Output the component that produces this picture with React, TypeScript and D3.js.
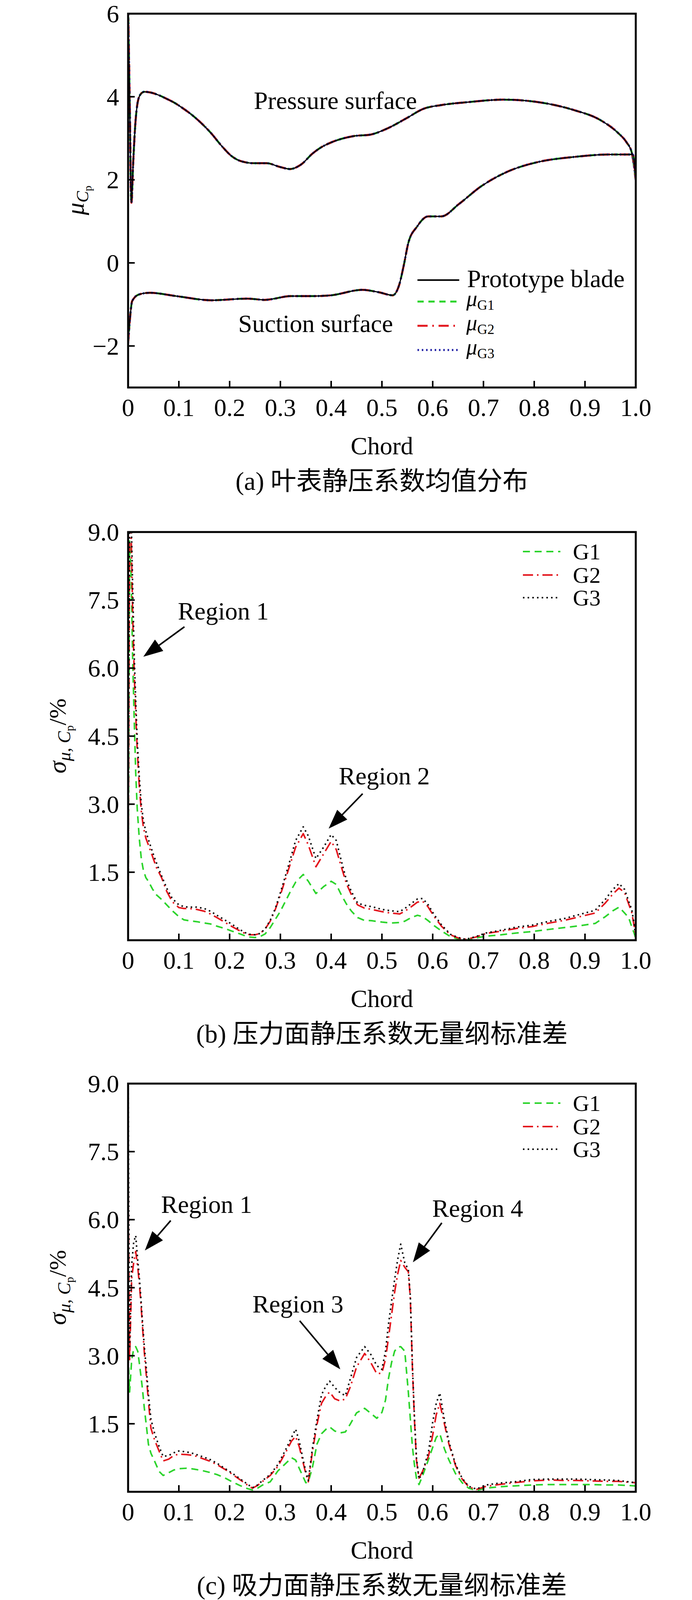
import React from 'react';
import * as d3 from 'd3';

const W = 1772;
const H = 4112;
const FONT = "'Liberation Serif', 'Times New Roman', 'Noto Sans CJK SC', serif";

// (a) mean static pressure coefficient
const chordPS = [0, 0.003, 0.0065, 0.01, 0.014, 0.018, 0.024, 0.032, 0.045, 0.06, 0.076, 0.092, 0.107, 0.125, 0.142, 0.163, 0.184, 0.204, 0.222, 0.248, 0.273, 0.299, 0.319, 0.342, 0.363, 0.38, 0.4, 0.443, 0.478, 0.513, 0.548, 0.582, 0.617, 0.669, 0.739, 0.808, 0.878, 0.93, 0.965, 0.982, 0.992, 1.0];
const muPS = [6.2, 4.0, 1.45, 2.4, 3.3, 3.8, 4.05, 4.12, 4.1, 4.04, 3.95, 3.85, 3.73, 3.57, 3.39, 3.13, 2.82, 2.57, 2.45, 2.4, 2.4, 2.31, 2.26, 2.38, 2.63, 2.78, 2.9, 3.05, 3.09, 3.25, 3.48, 3.71, 3.8, 3.87, 3.93, 3.87, 3.68, 3.44, 3.13, 2.9, 2.66, 2.0];
const chordSS = [0, 0.004, 0.008, 0.0215, 0.043, 0.095, 0.165, 0.235, 0.269, 0.321, 0.365, 0.4, 0.461, 0.495, 0.521, 0.534, 0.543, 0.552, 0.569, 0.591, 0.617, 0.652, 0.695, 0.748, 0.808, 0.878, 0.947, 0.994, 1.0];
const muSS = [-1.93, -1.3, -0.92, -0.76, -0.72, -0.8, -0.9, -0.86, -0.89, -0.8, -0.8, -0.78, -0.65, -0.71, -0.78, -0.53, -0.06, 0.48, 0.87, 1.12, 1.12, 1.42, 1.84, 2.2, 2.43, 2.55, 2.61, 2.61, 2.0];

// (b) pressure side standard deviation (%)
const chordB = [0, 0.003, 0.006, 0.009, 0.012, 0.015, 0.018, 0.022, 0.026, 0.03, 0.035, 0.04, 0.048, 0.056, 0.066, 0.076, 0.087, 0.1, 0.11, 0.12, 0.135, 0.15, 0.162, 0.175, 0.19, 0.205, 0.218, 0.23, 0.24, 0.25, 0.26, 0.27, 0.28, 0.29, 0.3, 0.31, 0.32, 0.33, 0.345, 0.355, 0.37, 0.385, 0.4, 0.41, 0.42, 0.43, 0.44, 0.452, 0.465, 0.48, 0.5, 0.517, 0.535, 0.545, 0.558, 0.57, 0.58, 0.59, 0.603, 0.618, 0.635, 0.65, 0.665, 0.685, 0.705, 0.735, 0.765, 0.795, 0.83, 0.86, 0.89, 0.92, 0.94, 0.955, 0.967, 0.978, 0.986, 0.992, 0.997, 1.0];
const g1B = [0.4, 8.8, 8.0, 6.2, 4.9, 3.7, 2.9, 2.25, 1.8, 1.55, 1.38, 1.3, 1.13, 1.0, 0.9, 0.78, 0.65, 0.52, 0.45, 0.43, 0.41, 0.38, 0.36, 0.31, 0.26, 0.2, 0.15, 0.1, 0.07, 0.06, 0.08, 0.14, 0.28, 0.46, 0.64, 0.86, 1.08, 1.28, 1.45, 1.3, 1.03, 1.18, 1.3, 1.23, 1.0, 0.8, 0.64, 0.5, 0.44, 0.43, 0.4, 0.38, 0.39, 0.42, 0.5, 0.55, 0.52, 0.44, 0.32, 0.2, 0.08, 0.03, 0.0, 0.05, 0.09, 0.12, 0.16, 0.19, 0.24, 0.28, 0.32, 0.37, 0.52, 0.65, 0.73, 0.6, 0.5, 0.3, 0.15, 0.03];
const g2B = [0.8, 9.3, 9.0, 7.2, 5.9, 5.0, 4.2, 3.4, 2.85, 2.5, 2.25, 2.1, 1.85, 1.6, 1.38, 1.08, 0.85, 0.72, 0.7, 0.7, 0.68, 0.64, 0.58, 0.5, 0.4, 0.3, 0.22, 0.15, 0.12, 0.12, 0.15, 0.25, 0.42, 0.68, 1.0, 1.35, 1.7, 2.05, 2.35, 2.1, 1.62, 1.9, 2.18, 2.0, 1.62, 1.25, 1.0, 0.78, 0.71, 0.68, 0.63, 0.6, 0.58, 0.64, 0.74, 0.84, 0.86, 0.75, 0.52, 0.3, 0.12, 0.05, 0.02, 0.07, 0.15, 0.2, 0.26, 0.3, 0.38, 0.44, 0.52, 0.6, 0.82, 1.02, 1.15, 1.05, 0.8, 0.62, 0.3, 0.05];
const g3B = [1.0, 9.6, 9.4, 7.8, 6.3, 5.3, 4.4, 3.6, 3.0, 2.65, 2.4, 2.22, 1.95, 1.7, 1.42, 1.15, 0.92, 0.78, 0.74, 0.73, 0.73, 0.7, 0.64, 0.55, 0.45, 0.35, 0.25, 0.17, 0.13, 0.12, 0.15, 0.25, 0.44, 0.7, 1.05, 1.42, 1.8, 2.2, 2.5, 2.3, 1.8, 2.05, 2.33, 2.2, 1.75, 1.33, 1.07, 0.82, 0.77, 0.74, 0.68, 0.65, 0.63, 0.7, 0.81, 0.91, 0.92, 0.8, 0.56, 0.33, 0.13, 0.06, 0.02, 0.08, 0.16, 0.22, 0.29, 0.33, 0.42, 0.48, 0.57, 0.66, 0.9, 1.12, 1.25, 1.12, 0.86, 0.68, 0.35, 0.05];

// (c) suction side standard deviation (%)
const chordC = [0, 0.003, 0.007, 0.011, 0.015, 0.019, 0.022, 0.025, 0.028, 0.032, 0.036, 0.04, 0.045, 0.052, 0.061, 0.069, 0.08, 0.09, 0.1, 0.115, 0.13, 0.145, 0.16, 0.175, 0.19, 0.205, 0.22, 0.235, 0.245, 0.255, 0.265, 0.28, 0.295, 0.31, 0.322, 0.33, 0.337, 0.344, 0.35, 0.355, 0.363, 0.372, 0.381, 0.39, 0.397, 0.407, 0.418, 0.428, 0.438, 0.45, 0.466, 0.478, 0.49, 0.5, 0.507, 0.513, 0.519, 0.525, 0.531, 0.537, 0.545, 0.552, 0.556, 0.56, 0.564, 0.568, 0.573, 0.58, 0.592, 0.6, 0.607, 0.614, 0.623, 0.632, 0.645, 0.658, 0.671, 0.686, 0.705, 0.73, 0.76, 0.795, 0.83, 0.86, 0.885, 0.91, 0.94, 0.965, 1.0];
const g1C = [3.0, 2.2, 2.9, 3.15, 3.2, 3.1, 2.85, 2.58, 2.3, 1.84, 1.46, 1.05, 0.85, 0.68, 0.45, 0.36, 0.42, 0.48, 0.51, 0.52, 0.5, 0.47, 0.43, 0.38, 0.31, 0.22, 0.14, 0.07, 0.04, 0.08, 0.15, 0.22, 0.46, 0.62, 0.75, 0.7, 0.52, 0.35, 0.2, 0.22, 0.53, 1.05, 1.28, 1.38, 1.43, 1.34, 1.3, 1.32, 1.5, 1.74, 1.84, 1.73, 1.62, 1.75, 2.02, 2.5, 2.85, 3.1, 3.19, 3.2, 3.1, 2.2, 1.6, 1.0, 0.6, 0.3, 0.16, 0.35, 0.72, 0.98, 1.2, 1.28, 0.95, 0.7, 0.4, 0.2, 0.08, 0.03, 0.08, 0.11, 0.13, 0.15, 0.16, 0.16, 0.16, 0.16, 0.15, 0.15, 0.13];
const g2C = [7.0, 2.9, 4.7, 5.05, 5.3, 4.95, 4.6, 4.2, 3.7, 3.07, 2.55, 2.0, 1.4, 1.15, 0.9, 0.68, 0.72, 0.8, 0.83, 0.82, 0.8, 0.74, 0.68, 0.6, 0.5, 0.39, 0.27, 0.15, 0.08, 0.14, 0.23, 0.36, 0.56, 0.86, 1.12, 1.22, 1.0, 0.68, 0.4, 0.22, 0.88, 1.48, 1.95, 2.12, 2.2, 2.05, 2.0, 2.05, 2.32, 2.75, 3.05, 2.85, 2.6, 2.62, 2.92, 3.4, 3.9, 4.4, 4.8, 5.1, 4.95, 4.85, 4.25, 2.75, 1.6, 0.7, 0.3, 0.45, 0.8, 1.25, 1.7, 1.95, 1.5, 1.05, 0.58, 0.28, 0.11, 0.05, 0.12, 0.16, 0.2, 0.24, 0.26, 0.25, 0.25, 0.24, 0.23, 0.23, 0.2];
const g3C = [9.0, 3.2, 5.0, 5.5, 5.65, 5.1, 4.75, 4.3, 3.8, 3.2, 2.7, 2.15, 1.6, 1.3, 1.0, 0.78, 0.8, 0.86, 0.9, 0.88, 0.84, 0.78, 0.72, 0.63, 0.52, 0.41, 0.29, 0.17, 0.09, 0.15, 0.25, 0.38, 0.6, 0.92, 1.2, 1.38, 1.12, 0.75, 0.45, 0.25, 0.95, 1.58, 2.14, 2.34, 2.44, 2.3, 2.18, 2.12, 2.5, 2.96, 3.2, 3.03, 2.78, 2.7, 3.1, 3.7, 4.2, 4.68, 5.12, 5.46, 5.05, 4.9, 4.3, 2.8, 1.65, 0.75, 0.28, 0.42, 0.9, 1.54, 1.95, 2.18, 1.59, 1.1, 0.6, 0.3, 0.12, 0.06, 0.15, 0.19, 0.22, 0.27, 0.28, 0.28, 0.28, 0.27, 0.26, 0.25, 0.2];

const xTicks = [0, 0.1, 0.2, 0.3, 0.4, 0.5, 0.6, 0.7, 0.8, 0.9, 1.0];
const yTicksA = [-2, 0, 2, 4, 6];
const yTicksSigma = [1.5, 3.0, 4.5, 6.0, 7.5, 9.0];
const captions = ['(a) 叶表静压系数均值分布', '(b) 压力面静压系数无量纲标准差', '(c) 吸力面静压系数无量纲标准差'];
const groupNames = ['G1', 'G2', 'G3'];

// annotation anchors in data units: [label, textX, textY, fromX, fromY, tipX, tipY]
const notesB: [string, number, number, number, number, number, number][] = [
  ['Region 1', 0.098, 7.07, 0.111, 6.91, 0.03, 6.25],
  ['Region 2', 0.415, 3.44, 0.462, 3.23, 0.395, 2.46],
];
const notesC: [string, number, number, number, number, number, number][] = [
  ['Region 1', 0.065, 6.15, 0.084, 5.98, 0.033, 5.32],
  ['Region 4', 0.599, 6.06, 0.618, 5.93, 0.561, 5.06],
  ['Region 3', 0.245, 3.95, 0.338, 3.77, 0.418, 2.7],
];

const GREEN = '#2cd42c';
const RED = '#e3161e';
const BLUE = '#2323a6';

const LEFT = 328;
const RIGHT = 1628;
const x = d3.scaleLinear().domain([0, 1]).range([LEFT, RIGHT]);

const fmtX = (v: number) => (v === 0 ? '0' : v.toFixed(1));

type Series = { xs: number[]; ys: number[]; stroke: string; dash?: string; width: number };

function Arrow({ x1, y1, x2, y2 }: { x1: number; y1: number; x2: number; y2: number }) {
  const a = Math.atan2(y2 - y1, x2 - x1);
  const len = 50;
  const hw = 18;
  const bx = x2 - len * Math.cos(a);
  const by = y2 - len * Math.sin(a);
  const px = -Math.sin(a) * hw;
  const py = Math.cos(a) * hw;
  return (
    <g>
      <line x1={x1} y1={y1} x2={bx} y2={by} stroke="#000" strokeWidth={4} />
      <polygon points={`${x2},${y2} ${bx + px},${by + py} ${bx - px},${by - py}`} fill="#000" />
    </g>
  );
}

function Panel({ id, top, bottom, domain, yTicks, fmtY, series, curve, caption, children }: {
  id: string; top: number; bottom: number; domain: [number, number]; yTicks: number[];
  fmtY: (v: number) => string; series: Series[]; curve: d3.CurveFactory; caption: string;
  children?: (y: d3.ScaleLinear<number, number>) => React.ReactNode;
}) {
  const y = d3.scaleLinear().domain(domain).range([bottom, top]);
  const line = d3.line<[number, number]>().x(d => x(d[0])).y(d => y(d[1])).curve(curve);
  const mid = (LEFT + RIGHT) / 2;
  return (
    <g>
      <defs>
        <clipPath id={id}>
          <rect x={LEFT} y={top} width={RIGHT - LEFT} height={bottom - top} />
        </clipPath>
      </defs>
      <g clipPath={`url(#${id})`}>
        {series.map((s, i) => (
          <path key={i} d={line(s.xs.map((v, k) => [v, s.ys[k]]) as [number, number][]) || ''}
            fill="none" stroke={s.stroke} strokeWidth={s.width} strokeDasharray={s.dash} strokeLinejoin="round" />
        ))}
      </g>
      <rect x={LEFT} y={top} width={RIGHT - LEFT} height={bottom - top} fill="none" stroke="#000" strokeWidth={5} />
      {xTicks.map(t => (
        <g key={t}>
          <line x1={x(t)} x2={x(t)} y1={bottom} y2={bottom - 17} stroke="#000" strokeWidth={4} />
          <text x={x(t)} y={bottom + 73} textAnchor="middle" fontSize={64}>{fmtX(t)}</text>
        </g>
      ))}
      {yTicks.map(t => (
        <g key={t}>
          <line x1={LEFT} x2={LEFT + 17} y1={y(t)} y2={y(t)} stroke="#000" strokeWidth={4} />
          <text x={LEFT - 23} y={y(t) + 22} textAnchor="end" fontSize={64}>{fmtY(t)}</text>
        </g>
      ))}
      <text x={mid} y={bottom + 171} textAnchor="middle" fontSize={64}>Chord</text>
      <text x={mid} y={bottom + 262} textAnchor="middle" fontSize={66}>{caption}</text>
      {children && children(y)}
    </g>
  );
}

function SigmaLegend({ top }: { top: number }) {
  const styles = [
    { stroke: GREEN, dash: '18 12' },
    { stroke: RED, dash: '26 10 4 10' },
    { stroke: '#111', dash: '4 8' },
  ];
  const rows = [50, 110, 168];
  return (
    <g>
      {groupNames.map((n, i) => (
        <g key={n}>
          <line x1={1339} x2={1435} y1={top + rows[i]} y2={top + rows[i]} stroke={styles[i].stroke}
            strokeWidth={4} strokeDasharray={styles[i].dash} />
          <text x={1467} y={top + rows[i] + 20} fontSize={58}>{n}</text>
        </g>
      ))}
    </g>
  );
}

function SigmaLabel({ cy }: { cy: number }) {
  return (
    <text transform={`translate(168,${cy}) rotate(-90)`} textAnchor="middle" fontSize={64}>
      <tspan fontStyle="italic">σ</tspan>
      <tspan fontStyle="italic" fontSize={46} dy={12}>μ</tspan>
      <tspan fontSize={46}>, </tspan>
      <tspan fontStyle="italic" fontSize={46}>C</tspan>
      <tspan fontSize={30} dy={8}>p</tspan>
      <tspan fontSize={62} dy={-20}>/%</tspan>
    </text>
  );
}

function Notes({ notes, y }: { notes: typeof notesB; y: d3.ScaleLinear<number, number> }) {
  return (
    <g>
      {notes.map(([label, tx, ty, fx, fy, ax, ay]) => (
        <g key={label}>
          <text x={x(tx)} y={y(ty)} fontSize={64}>{label}</text>
          <Arrow x1={x(fx)} y1={y(fy)} x2={x(ax)} y2={y(ay)} />
        </g>
      ))}
    </g>
  );
}

export default function App() {
  const colourLines = (xs: number[], ys: number[]): Series[] => [
    { xs, ys, stroke: GREEN, dash: '18 12', width: 5.5 },
    { xs, ys, stroke: RED, dash: '26 10 4 10', width: 5.5 },
    { xs, ys, stroke: BLUE, dash: '4 7', width: 5.5 },
    { xs, ys, stroke: '#000', width: 3 },
  ];
  const seriesA = [...colourLines(chordPS, muPS), ...colourLines(chordSS, muSS)];
  const sig = (xs: number[], a: number[], b: number[], c: number[]): Series[] => [
    { xs, ys: a, stroke: GREEN, dash: '18 12', width: 4 },
    { xs, ys: b, stroke: RED, dash: '26 10 4 10', width: 4 },
    { xs, ys: c, stroke: '#111', dash: '4 8', width: 4 },
  ];
  const legendA = [
    { label: 'G1', stroke: GREEN, dash: '16 12' },
    { label: 'G2', stroke: RED, dash: '26 12 4 12' },
    { label: 'G3', stroke: BLUE, dash: '4 7' },
  ];
  return (
    <svg width={W} height={H} viewBox={`0 0 ${W} ${H}`} fontFamily={FONT}
      style={{ position: 'absolute', left: 0, top: 0, background: '#fff' }}>
      <rect width={W} height={H} fill="#fff" />
      <Panel id="clipA" top={35} bottom={992} domain={[-3, 6]} yTicks={yTicksA}
        fmtY={v => (v < 0 ? `\u2212${Math.abs(v)}` : `${v}`)} series={seriesA}
        curve={d3.curveMonotoneX} caption={captions[0]}>
        {y => (
          <g>
            <text x={x(0.2477)} y={y(3.71)} fontSize={64}>Pressure surface</text>
            <text x={x(0.217)} y={y(-1.66)} fontSize={64}>Suction surface</text>
          </g>
        )}
      </Panel>
      <text transform="translate(214,513) rotate(-90)" textAnchor="middle" fontSize={64}>
        <tspan fontStyle="italic">μ</tspan>
        <tspan fontStyle="italic" fontSize={44} dy={12}>C</tspan>
        <tspan fontSize={28} dy={8}>p</tspan>
      </text>
      <g>
        <line x1={1069} x2={1176} y1={717} y2={717} stroke="#000" strokeWidth={4} />
        <text x={1196} y={735} fontSize={64}>Prototype blade</text>
        {legendA.map((l, i) => {
          const ry = 772 + i * 62;
          return (
            <g key={l.label}>
              <line x1={1069} x2={1172} y1={ry} y2={ry} stroke={l.stroke} strokeWidth={5} strokeDasharray={l.dash} />
              <text x={1194} y={ry + 11} fontSize={56}>
                <tspan fontStyle="italic">μ</tspan>
                <tspan fontSize={36} dy={10}>{l.label}</tspan>
              </text>
            </g>
          );
        })}
      </g>

      <Panel id="clipB" top={1362} bottom={2407} domain={[0, 9]} yTicks={yTicksSigma}
        fmtY={v => v.toFixed(1)} series={sig(chordB, g1B, g2B, g3B)} curve={d3.curveLinear} caption={captions[1]}>
        {y => <Notes notes={notesB} y={y} />}
      </Panel>
      <SigmaLabel cy={1884} />
      <SigmaLegend top={1362} />

      <Panel id="clipC" top={2774} bottom={3819} domain={[0, 9]} yTicks={yTicksSigma}
        fmtY={v => v.toFixed(1)} series={sig(chordC, g1C, g2C, g3C)} curve={d3.curveLinear} caption={captions[2]}>
        {y => <Notes notes={notesC} y={y} />}
      </Panel>
      <SigmaLabel cy={3296} />
      <SigmaLegend top={2774} />
    </svg>
  );
}
